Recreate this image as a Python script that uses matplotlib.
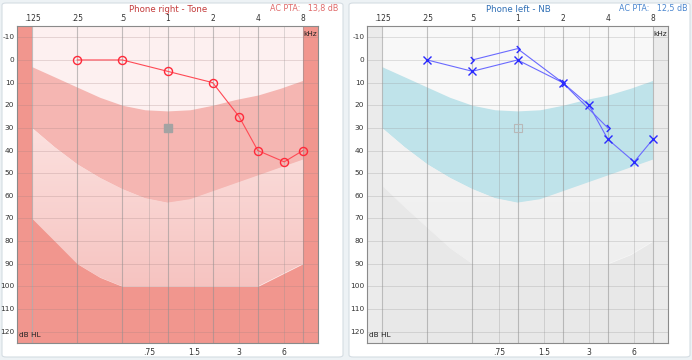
import numpy as np
import matplotlib.pyplot as plt
from matplotlib.path import Path
from matplotlib.patches import FancyBboxPatch
from matplotlib.colors import LinearSegmentedColormap

# ---------------- data ----------------
band_freqs = [0.125, 0.177, 0.25, 0.354, 0.5, 0.707, 1, 1.414, 2, 2.828, 4, 5.657, 8]
band_top = [3, 7.5, 12, 16.5, 20, 22, 22.5, 22, 20, 17.5, 15.5, 12.5, 9]
band_bottom = [30, 38.5, 46, 52, 57, 61, 63, 61.5, 58, 54.5, 51, 47.5, 44]
floor_right_ear = [70, 80, 90, 96, 100, 100, 100, 100, 100, 100, 100, 95, 90]
floor_left_ear = [55.5, 65, 74, 83, 90, 90, 90, 90, 90, 90, 90, 86, 80]

right_ac_freq = [0.25, 0.5, 1, 2, 3, 4, 6, 8]
right_ac_db = [0, 0, 5, 10, 25, 40, 45, 40]

left_ac_freq = [0.25, 0.5, 1, 2, 3, 4, 6, 8]
left_ac_db = [0, 5, 0, 10, 20, 35, 45, 35]
left_bc_freq = [0.5, 1, 2, 4]
left_bc_db = [0, -5, 10, 30]

ref_freq = [1]
ref_db = [30]

top_ticks = [0.125, 0.25, 0.5, 1, 2, 4, 8]
top_labels = ['.125', '.25', '.5', '1', '2', '4', '8']
mid_ticks = [0.75, 1.5, 3, 6]
mid_labels = ['.75', '1.5', '3', '6']
db_ticks = list(range(-10, 121, 10))

titles = ['Phone right - Tone', 'Phone left - NB']
pta_texts = ['AC PTA:   13,8 dB', 'AC PTA:   12,5 dB']

# ---------------- figure ----------------
W, H = 692, 360
fig = plt.figure(figsize=(W / 100, H / 100), dpi=100)
fig.patch.set_facecolor('#edf2f5')
plt.rcParams['font.family'] = ['DejaVu Sans']

for px0, px1 in [(2, 343), (349, 690)]:
    fig.patches.append(FancyBboxPatch((px0 / W, 3 / H), (px1 - px0) / W, (H - 6) / H,
                                      boxstyle='round,pad=0,rounding_size=0.006',
                                      transform=fig.transFigure, facecolor='white',
                                      edgecolor='#d5dde3', lw=0.8, zorder=-5))

xlo = 0.125 * 2 ** (-1 / 3)
xhi = 8 * 2 ** (1 / 3)

chevron = Path([(-0.5, 1.0), (0.5, 0.0), (-0.5, -1.0)],
               [Path.MOVETO, Path.LINETO, Path.LINETO])

panels = [
    dict(x0=17, top_c='#fdf0f0', band_c='#f5b6b2', mid_c=('#fce3e1', '#f6c3c0'),
         low_c='#f1968e', side_c='#f1968e', floor=floor_right_ear, title_c='#c43a3a',
         pta_c='#e06a6a', grid_c='#a08080'),
    dict(x0=367, top_c='#f8f8f8', band_c='#bfe3ea', mid_c=('#f3f3f3', '#efefef'),
         low_c='#e8e8e8', side_c='#ebebeb', floor=floor_left_ear, title_c='#2f6fb5',
         pta_c='#4a86cf', grid_c='#909090'),
]

for i, p in enumerate(panels):
    ax = fig.add_axes([p['x0'] / W, 17 / H, 301 / W, 317 / H])
    ax.set_xscale('log', base=2)
    ax.set_xlim(xlo, xhi)
    ax.set_ylim(125, -15)
    ax.set_facecolor(p['top_c'])

    # background regions
    ax.fill_between(band_freqs, band_top, band_bottom, color=p['band_c'], lw=0, zorder=0)
    mid = ax.fill_between(band_freqs, band_bottom, p['floor'], color='none', lw=0, zorder=0)
    cmap = LinearSegmentedColormap.from_list('g', list(p['mid_c']))
    grad = np.linspace(0, 1, 256).reshape(-1, 1)
    im = ax.imshow(grad, cmap=cmap, aspect='auto', extent=(0.11, 9, 101, 25),
                   origin='upper', zorder=0)
    im.set_clip_path(mid.get_paths()[0], transform=ax.transData)
    ax.fill_between(band_freqs, p['floor'], 125, color=p['low_c'], lw=0, zorder=0)
    ax.axvspan(xlo, 0.125, color=p['side_c'], lw=0, zorder=0.5)
    ax.axvspan(8, xhi, color=p['side_c'], lw=0, zorder=0.5)
    ax.set_xlim(xlo, xhi)
    ax.set_ylim(125, -15)

    # grid
    for d in db_ticks:
        ax.axhline(d, color=p['grid_c'], lw=0.6, alpha=0.3, zorder=1)
    for f in top_ticks:
        ax.axvline(f, color='#909090', lw=0.8, alpha=0.55, zorder=1)
    for f in mid_ticks:
        ax.axvline(f, color='#909090', lw=0.6, alpha=0.35, zorder=1)

    ax.set_xticks([])
    ax.set_yticks([])
    ax.minorticks_off()
    for s in ax.spines.values():
        s.set_color('#8a8a8a')
        s.set_linewidth(0.8)

    # tick labels
    for f, lab in zip(top_ticks, top_labels):
        ax.text(f, -16.5, lab, ha='center', va='bottom', fontsize=5.5, color='#333333')
    for f, lab in zip(mid_ticks, mid_labels):
        ax.text(f, 127, lab, ha='center', va='top', fontsize=5.5, color='#333333')
    for d in db_ticks:
        ax.text(xlo * 2 ** (-0.06), d, str(d), ha='right', va='center', fontsize=5.3,
                color='#333333')
    ax.text(xhi * 2 ** (-0.03), -11.5, 'kHz', ha='right', va='center', fontsize=5.3,
            color='#222222')
    ax.text(xlo * 2 ** 0.04, 121.5, 'dB HL', ha='left', va='center', fontsize=5.3,
            color='#222222')

    fig.text((p['x0'] + 151) / W, (H - 9) / H, titles[i], ha='center', va='center',
             fontsize=6.2, color=p['title_c'])
    fig.text((p['x0'] + 321) / W, (H - 8) / H, pta_texts[i], ha='right', va='center',
             fontsize=5.8, color=p['pta_c'])

    if i == 0:
        ax.plot(ref_freq, ref_db, marker='s', ms=5.5, color='#a3a3a3', ls='none', zorder=3)
        ax.plot(right_ac_freq, right_ac_db, color='#ff4a55', lw=0.8, zorder=4)
        ax.plot(right_ac_freq, right_ac_db, ls='none', marker='o', ms=5.8,
                mfc='none', mec='#ff2a3a', mew=1.0, zorder=5)
    else:
        ax.plot(ref_freq, ref_db, marker='s', ms=6, mfc='none', mec='#b8b8b8', mew=0.8,
                ls='none', zorder=3)
        ax.plot(left_ac_freq, left_ac_db, color='#6a6aff', lw=0.8, zorder=4)
        ax.plot(left_ac_freq, left_ac_db, ls='none', marker='x', ms=6.2,
                mec='#2a2aff', mew=1.0, zorder=5)
        ax.plot(left_bc_freq, left_bc_db, color='#6a6aff', lw=0.8, zorder=4)
        ax.plot(left_bc_freq, left_bc_db, ls='none', marker=chevron, ms=5,
                mfc='none', mec='#2a2aff', mew=1.0, zorder=5)

fig.savefig('out.png', dpi=100, facecolor=fig.get_facecolor())
